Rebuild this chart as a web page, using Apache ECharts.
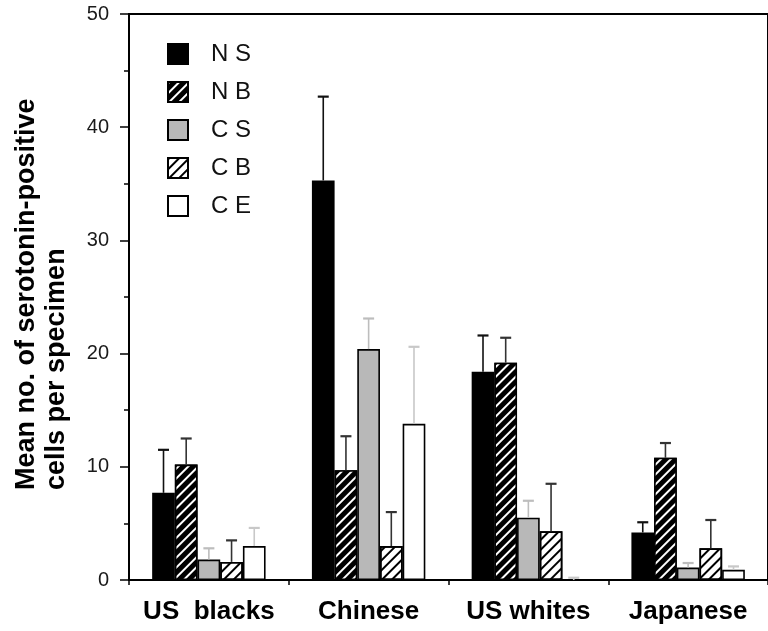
<!DOCTYPE html>
<html>
<head>
<meta charset="utf-8">
<script src="https://cdn.jsdelivr.net/npm/echarts@6/dist/echarts.min.js"></script>
<style>
html,body{margin:0;padding:0;background:#fff;}
#chart{width:768px;height:631px;}
</style>
</head>
<body>
<div id="chart"></div>
<script>
// Categories and tick labels
const categories = ['US  blacks', 'Chinese', 'US whites', 'Japanese'];
const seriesNames = ['N S', 'N B', 'C S', 'C B', 'C E'];
const yTicks = [0, 10, 20, 30, 40, 50];

// Means
const NS = [7.7, 35.3, 18.4, 4.2];
const NB = [10.2, 9.7, 19.2, 10.8];
const CS = [1.8, 20.4, 5.5, 1.1];
const CB = [1.6, 3.0, 4.3, 2.8];
const CE = [3.0, 13.8, 0, 0.9];

// Upper error (SE) values
const NS_err = [3.8, 7.4, 3.2, 0.9];
const NB_err = [2.3, 3.0, 2.2, 1.3];
const CS_err = [1.0, 2.7, 1.5, 0.4];
const CB_err = [1.9, 3.0, 4.2, 2.5];
const CE_err = [1.6, 6.8, 0.2, 0.3];

const means = [NS, NB, CS, CB, CE];
const errs = [NS_err, NB_err, CS_err, CB_err, CE_err];

const BAR_FRAC = 0.142;
const fills = ['#000000', '#000000', '#b8b8b8', '#ffffff', '#ffffff'];
const decals = [
  null,
  {symbol: 'rect', symbolSize: 1, color: '#ffffff', dashArrayX: [1, 0], dashArrayY: [1.8, 5], rotation: -Math.PI / 4},
  null,
  {symbol: 'rect', symbolSize: 1, color: '#000000', dashArrayX: [1, 0], dashArrayY: [1.8, 5], rotation: -Math.PI / 4},
  null
];
const errColors = ['#111111', '#333333', '#bdbdbd', '#333333', '#c8c8c8'];

const series = [];
seriesNames.forEach(function (name, k) {
  const st = {color: fills[k], borderColor: '#000', borderWidth: 1.6};
  if (decals[k]) st.decal = decals[k];
  series.push({
    name: name,
    type: 'bar',
    data: means[k],
    barWidth: (BAR_FRAC * 100) + '%',
    barGap: '0%',
    itemStyle: st,
    emphasis: {disabled: true},
    z: 2
  });
});
seriesNames.forEach(function (name, k) {
  series.push({
    type: 'custom',
    name: name + ' err',
    data: means[k].map(function (m, i) { return [i, m, errs[k][i]]; }),
    encode: {x: 0, y: 1},
    z: 3,
    silent: true,
    renderItem: function (params, api) {
      const ci = api.value(0);
      const base = api.coord([ci, api.value(1)]);
      const top = api.coord([ci, api.value(1) + api.value(2)]);
      const band = api.size([1, 0])[0];
      const x = base[0] + (k - 2) * band * BAR_FRAC;
      const half = 5.5;
      const style = {stroke: errColors[k], lineWidth: 1.6};
      return {
        type: 'group',
        children: [
          {type: 'line', shape: {x1: x, y1: base[1], x2: x, y2: top[1]}, style: style},
          {type: 'line', shape: {x1: x - half, y1: top[1], x2: x + half, y2: top[1]}, style: {stroke: errColors[k], lineWidth: 2.2}}
        ]
      };
    }
  });
});

const chart = echarts.init(document.getElementById('chart'), null, {renderer: 'canvas'});
chart.setOption({
  animation: false,
  backgroundColor: '#ffffff',
  grid: {left: 129, right: -8, top: 14, bottom: 51, show: true, borderColor: '#000', borderWidth: 2, backgroundColor: 'transparent'},
  legend: {
    data: seriesNames,
    orient: 'vertical',
    left: 162,
    top: 37,
    itemWidth: 20,
    itemHeight: 20,
    itemGap: 14,
    icon: 'rect',
    textStyle: {fontFamily: 'Liberation Sans', fontSize: 24, color: '#111', padding: [10, 0, 0, 18]}
  },
  xAxis: {
    type: 'category',
    data: categories,
    axisLine: {lineStyle: {color: '#000', width: 2}},
    axisTick: {show: true, length: 5, lineStyle: {color: '#000', width: 1.5}},
    axisLabel: {interval: 0, hideOverlap: false, fontFamily: 'Liberation Sans', fontWeight: 'bold', fontSize: 26, color: '#000', margin: 19}
  },
  yAxis: {
    type: 'value',
    min: yTicks[0],
    max: yTicks[yTicks.length - 1],
    interval: 10,
    axisLine: {show: true, lineStyle: {color: '#000', width: 2}},
    axisTick: {show: true, length: 9, lineStyle: {color: '#000', width: 1.5}},
    minorTick: {show: true, splitNumber: 2, length: 5, lineStyle: {color: '#000', width: 1.5}},
    splitLine: {show: false},
    axisLabel: {fontFamily: 'Liberation Sans', fontSize: 20, color: '#1a1a1a', margin: 20}
  },
  graphic: [{
    type: 'text',
    x: 12,
    y: 490,
    rotation: Math.PI / 2,
    style: {
      text: 'Mean no. of serotonin-positive\ncells per specimen',
      font: 'bold 27px "Liberation Sans"',
      lineHeight: 30,
      fill: '#000',
      textAlign: 'left',
      textVerticalAlign: 'top'
    }
  }],
  series: series
});
</script>
</body>
</html>
